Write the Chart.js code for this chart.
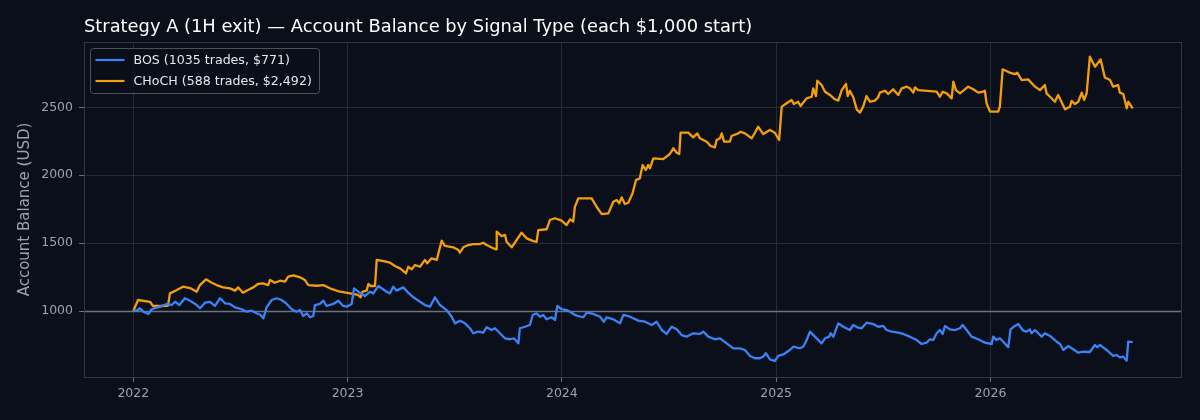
<!DOCTYPE html>
<html>
<head>
<meta charset="utf-8">
<script src="https://cdn.jsdelivr.net/npm/chart.js@4/dist/chart.umd.min.js"></script>
<style>
  html, body { margin: 0; padding: 0; background: #0b0f19; }
  #wrap { width: 1200px; height: 420px; }
</style>
</head>
<body>
<div id="wrap"><canvas id="c" width="1200" height="420"></canvas></div>
<script>
// ---- Data (time as decimal year) ----
const chartTitle = "Strategy A (1H exit) \u2014 Account Balance by Signal Type (each $1,000 start)";
const yAxisTitle = "Account Balance (USD)";
const seriesNames = ["BOS (1035 trades, $771)", "CHoCH (588 trades, $2,492)"];
const yearTicks = [2022, 2023, 2024, 2025, 2026];
const balanceTicks = [1000, 1500, 2000, 2500];
const startBalance = 1000;

const bosYears = [2022.000,2022.016,2022.031,2022.047,2022.070,2022.086,2022.125,2022.156,2022.179,2022.195,2022.215,2022.241,2022.265,2022.296,2022.311,2022.335,2022.358,2022.381,2022.405,2022.428,2022.451,2022.475,2022.506,2022.529,2022.553,2022.576,2022.594,2022.607,2022.622,2022.646,2022.669,2022.692,2022.716,2022.739,2022.762,2022.778,2022.793,2022.809,2022.825,2022.840,2022.848,2022.871,2022.887,2022.902,2022.933,2022.957,2022.980,2022.996,2023.019,2023.030,2023.050,2023.081,2023.105,2023.120,2023.143,2023.159,2023.182,2023.198,2023.213,2023.229,2023.260,2023.283,2023.307,2023.338,2023.361,2023.385,2023.408,2023.431,2023.462,2023.486,2023.501,2023.525,2023.548,2023.571,2023.587,2023.610,2023.633,2023.649,2023.672,2023.688,2023.711,2023.734,2023.758,2023.776,2023.797,2023.804,2023.828,2023.851,2023.864,2023.882,2023.898,2023.913,2023.929,2023.952,2023.968,2023.979,2023.999,2024.022,2024.038,2024.061,2024.077,2024.100,2024.116,2024.147,2024.178,2024.196,2024.209,2024.240,2024.271,2024.287,2024.318,2024.357,2024.388,2024.419,2024.442,2024.466,2024.489,2024.512,2024.536,2024.559,2024.582,2024.613,2024.644,2024.660,2024.683,2024.714,2024.738,2024.769,2024.800,2024.831,2024.854,2024.878,2024.901,2024.924,2024.940,2024.952,2024.971,2024.994,2025.010,2025.033,2025.064,2025.080,2025.111,2025.126,2025.139,2025.158,2025.181,2025.212,2025.228,2025.248,2025.254,2025.267,2025.290,2025.313,2025.344,2025.360,2025.378,2025.399,2025.422,2025.453,2025.476,2025.500,2025.515,2025.539,2025.570,2025.593,2025.624,2025.656,2025.679,2025.702,2025.718,2025.733,2025.749,2025.764,2025.777,2025.788,2025.811,2025.834,2025.858,2025.870,2025.889,2025.912,2025.943,2025.974,2026.006,2026.013,2026.029,2026.044,2026.060,2026.083,2026.094,2026.114,2026.130,2026.153,2026.169,2026.184,2026.192,2026.208,2026.239,2026.254,2026.278,2026.309,2026.325,2026.340,2026.363,2026.386,2026.410,2026.433,2026.464,2026.488,2026.498,2026.511,2026.542,2026.573,2026.589,2026.604,2026.620,2026.636,2026.643,2026.664];
const bosBalance = [1005,1002,1020,995,978,1013,1032,1052,1044,1068,1044,1094,1076,1044,1020,1061,1068,1037,1094,1057,1052,1027,1013,995,1002,983,971,946,1027,1081,1094,1081,1052,1013,995,1007,963,983,954,963,1044,1052,1076,1037,1052,1076,1037,1032,1052,1167,1142,1110,1142,1130,1184,1167,1142,1130,1179,1150,1174,1135,1101,1068,1044,1032,1101,1044,1007,958,909,929,909,873,836,848,840,880,860,873,836,799,792,799,762,873,884,897,971,983,958,971,939,954,934,1037,1013,1007,995,971,963,954,988,978,958,921,954,939,909,971,958,929,921,897,921,860,831,884,865,823,811,836,831,848,811,792,799,762,725,725,713,669,652,652,664,689,644,632,670,680,713,737,725,737,774,848,811,762,799,811,836,811,909,884,860,897,880,873,914,904,884,890,860,848,840,831,811,786,757,767,792,786,836,860,831,890,865,860,873,897,860,811,792,767,757,811,786,799,774,733,865,890,904,855,848,865,836,860,811,836,816,774,757,713,742,718,693,700,698,750,733,750,713,669,676,659,664,634,774,771];

const chochYears = [2022.000,2022.022,2022.078,2022.092,2022.139,2022.162,2022.171,2022.203,2022.232,2022.265,2022.296,2022.311,2022.339,2022.366,2022.389,2022.419,2022.451,2022.475,2022.489,2022.512,2022.535,2022.560,2022.582,2022.605,2022.629,2022.638,2022.661,2022.685,2022.708,2022.723,2022.747,2022.778,2022.801,2022.817,2022.856,2022.887,2022.918,2022.965,2023.012,2023.049,2023.061,2023.070,2023.089,2023.097,2023.108,2023.128,2023.136,2023.167,2023.198,2023.221,2023.245,2023.273,2023.283,2023.299,2023.315,2023.338,2023.361,2023.372,2023.392,2023.416,2023.439,2023.454,2023.493,2023.517,2023.524,2023.540,2023.563,2023.587,2023.618,2023.633,2023.649,2023.680,2023.693,2023.696,2023.719,2023.735,2023.742,2023.766,2023.789,2023.812,2023.836,2023.867,2023.882,2023.890,2023.929,2023.944,2023.968,2023.999,2024.022,2024.038,2024.053,2024.061,2024.077,2024.139,2024.162,2024.186,2024.217,2024.240,2024.256,2024.268,2024.279,2024.294,2024.310,2024.330,2024.346,2024.364,2024.377,2024.392,2024.403,2024.411,2024.427,2024.473,2024.504,2024.520,2024.536,2024.548,2024.554,2024.590,2024.613,2024.632,2024.644,2024.676,2024.694,2024.714,2024.722,2024.738,2024.746,2024.757,2024.784,2024.792,2024.823,2024.834,2024.854,2024.886,2024.901,2024.916,2024.940,2024.971,2024.994,2025.014,2025.026,2025.049,2025.072,2025.083,2025.103,2025.114,2025.142,2025.166,2025.173,2025.186,2025.192,2025.212,2025.228,2025.251,2025.274,2025.290,2025.306,2025.326,2025.334,2025.344,2025.360,2025.376,2025.391,2025.406,2025.422,2025.438,2025.461,2025.476,2025.484,2025.508,2025.523,2025.546,2025.570,2025.586,2025.609,2025.624,2025.640,2025.648,2025.663,2025.749,2025.764,2025.777,2025.796,2025.819,2025.827,2025.839,2025.858,2025.896,2025.920,2025.943,2025.966,2025.974,2025.982,2025.998,2026.036,2026.044,2026.057,2026.091,2026.114,2026.125,2026.146,2026.176,2026.208,2026.231,2026.254,2026.262,2026.278,2026.301,2026.316,2026.348,2026.371,2026.379,2026.394,2026.410,2026.426,2026.437,2026.449,2026.464,2026.488,2026.514,2026.534,2026.558,2026.573,2026.596,2026.604,2026.620,2026.636,2026.643,2026.664];
const chochBalance = [1000,1081,1068,1037,1037,1040,1130,1155,1179,1169,1142,1191,1233,1208,1191,1174,1167,1150,1174,1135,1155,1174,1199,1204,1191,1228,1208,1223,1216,1253,1263,1248,1228,1191,1186,1191,1167,1142,1130,1118,1101,1142,1150,1199,1184,1184,1376,1368,1356,1331,1314,1278,1326,1307,1339,1326,1376,1351,1388,1376,1518,1479,1469,1449,1429,1469,1486,1493,1493,1503,1486,1462,1454,1584,1552,1560,1510,1469,1523,1577,1535,1515,1510,1596,1602,1670,1683,1665,1633,1675,1658,1768,1830,1830,1768,1714,1719,1805,1817,1793,1837,1788,1797,1867,1965,1977,2075,2038,2075,2051,2124,2119,2156,2198,2166,2156,2313,2313,2279,2308,2272,2247,2215,2205,2259,2272,2308,2247,2247,2289,2308,2320,2308,2272,2313,2357,2303,2333,2313,2259,2505,2530,2554,2524,2541,2510,2566,2578,2640,2583,2696,2664,2615,2591,2559,2549,2627,2672,2583,2622,2574,2485,2461,2505,2583,2541,2549,2574,2608,2622,2598,2633,2591,2640,2652,2640,2608,2647,2627,2615,2578,2615,2603,2566,2689,2627,2603,2652,2633,2608,2615,2622,2530,2468,2468,2505,2780,2755,2745,2755,2701,2706,2652,2627,2664,2603,2578,2541,2591,2485,2505,2547,2524,2541,2608,2554,2603,2873,2799,2853,2720,2701,2652,2664,2608,2598,2493,2541,2492];

// ---- Styling ----
const BG = '#0b0f19';
const GRID = '#252a35';
const SPINE = '#303644';
const TICK_TXT = '#9ca3af';
const BLUE = '#3b82f6';
const ORANGE = '#f59e0b';
const FONT = "'DejaVu Sans', sans-serif";

function toPoints(xs, ys) { return xs.map((x, i) => ({ x: x, y: ys[i] })); }

const decor = {
  id: 'decor',
  beforeDraw(chart) {
    const ctx = chart.ctx;
    ctx.save();
    ctx.fillStyle = BG;
    ctx.fillRect(0, 0, chart.width, chart.height);
    ctx.restore();
  },
  beforeDatasetsDraw(chart) {
    const ctx = chart.ctx, a = chart.chartArea;
    const y = Math.round(chart.scales.y.getPixelForValue(startBalance)) + 0.5;
    ctx.save();
    ctx.strokeStyle = '#6b7280';
    ctx.lineWidth = 1.3;
    ctx.beginPath();
    ctx.moveTo(a.left, y); ctx.lineTo(a.right, y);
    ctx.stroke();
    ctx.restore();
  },
  afterDraw(chart) {
    const ctx = chart.ctx, a = chart.chartArea;
    ctx.save();
    // frame
    ctx.strokeStyle = SPINE;
    ctx.lineWidth = 1;
    ctx.strokeRect(Math.round(a.left) + 0.5, Math.round(a.top) + 0.5, Math.round(a.right - a.left) - 1, Math.round(a.bottom - a.top));
    // title
    ctx.fillStyle = '#ffffff';
    ctx.font = "17.85px " + FONT;
    ctx.textBaseline = 'alphabetic';
    ctx.textAlign = 'left';
    ctx.fillText(chartTitle, 84, 32);
    // y axis title
    ctx.save();
    ctx.translate(25, (a.top + a.bottom) / 2);
    ctx.rotate(-Math.PI / 2);
    ctx.textAlign = 'center';
    ctx.textBaseline = 'middle';
    ctx.fillStyle = TICK_TXT;
    ctx.font = "15px " + FONT;
    ctx.fillText(yAxisTitle, 0, 0);
    ctx.restore();
    // legend
    const lx = a.left + 6.5, ly = a.top + 6.5, lw = 229, lh = 45;
    ctx.beginPath();
    if (ctx.roundRect) ctx.roundRect(lx, ly, lw, lh, 3); else ctx.rect(lx, ly, lw, lh);
    ctx.fillStyle = 'rgba(11,15,25,0.75)';
    ctx.fill();
    ctx.strokeStyle = '#4a505c';
    ctx.lineWidth = 1;
    ctx.stroke();
    const colors = [BLUE, ORANGE];
    ctx.font = "12.6px " + FONT;
    ctx.textBaseline = 'middle';
    ctx.textAlign = 'left';
    seriesNames.forEach((name, i) => {
      const cy = ly + 11.5 + i * 21;
      ctx.strokeStyle = colors[i];
      ctx.lineWidth = 2.2;
      ctx.beginPath();
      ctx.moveTo(lx + 5, cy); ctx.lineTo(lx + 34, cy);
      ctx.stroke();
      ctx.fillStyle = '#e5e7eb';
      ctx.fillText(name, lx + 43, cy + 0.5);
    });
    ctx.restore();
  }
};

new Chart(document.getElementById('c'), {
  type: 'line',
  data: {
    datasets: [
      { label: seriesNames[0], data: toPoints(bosYears, bosBalance), borderColor: BLUE, borderWidth: 2.3, pointRadius: 0, tension: 0, fill: false, borderJoinStyle: 'round' },
      { label: seriesNames[1], data: toPoints(chochYears, chochBalance), borderColor: ORANGE, borderWidth: 2.3, pointRadius: 0, tension: 0, fill: false, borderJoinStyle: 'round' }
    ]
  },
  options: {
    responsive: false,
    animation: false,
    devicePixelRatio: 1,
    parsing: true,
    layout: { padding: { top: 42, right: 18, left: 0, bottom: 0 } },
    plugins: { legend: { display: false }, title: { display: false }, tooltip: { enabled: false } },
    scales: {
      x: {
        type: 'linear',
        min: 2021.770,
        max: 2026.894,
        afterBuildTicks(scale) { scale.ticks = yearTicks.map(v => ({ value: v })); },
        afterFit(scale) { scale.height = 43; },
        grid: { color: GRID, lineWidth: 1, drawTicks: true, tickLength: 5, tickColor: '#6b7280' },
        border: { display: false },
        ticks: { color: TICK_TXT, font: { family: FONT, size: 12.5 }, padding: 4, maxRotation: 0, callback: v => String(v) }
      },
      y: {
        type: 'linear',
        min: 514,
        max: 2981,
        afterBuildTicks(scale) { scale.ticks = balanceTicks.map(v => ({ value: v })); },
        afterFit(scale) { scale.width = 84; },
        grid: { color: GRID, lineWidth: 1, drawTicks: true, tickLength: 5, tickColor: '#6b7280' },
        border: { display: false },
        ticks: { color: TICK_TXT, font: { family: FONT, size: 12.5 }, padding: 6, callback: v => String(v) }
      }
    }
  },
  plugins: [decor]
});
</script>
</body>
</html>
